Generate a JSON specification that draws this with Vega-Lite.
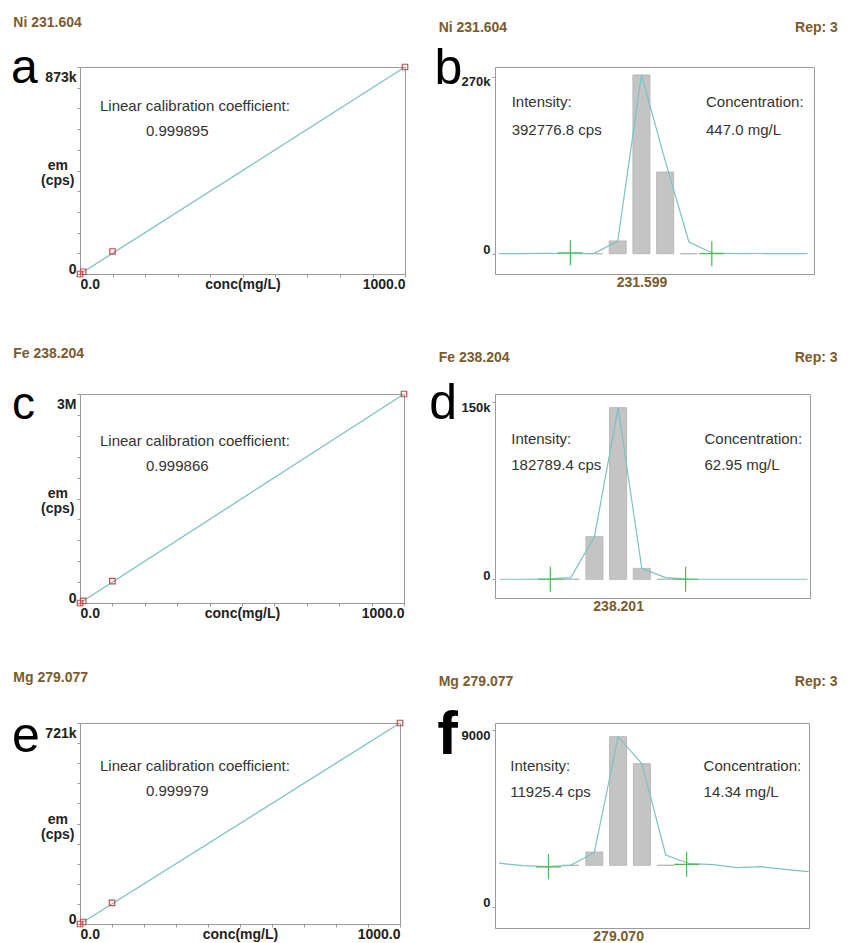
{
  "$schema": "https://vega.github.io/schema/vega-lite/v6.json",
  "padding": {"left": 10, "top": 15, "right": 2, "bottom": 0},
  "bounds": "flush",
  "columns": 2,
  "spacing": {"row": 120, "column": 90},
  "config": {
    "font": "Liberation Sans",
    "view": {"stroke": "#9a9a9a", "strokeWidth": 1},
    "axis": {"grid": false, "domainColor": "#9a9a9a", "tickColor": "#9a9a9a", "tickSize": 3, "labelFont": "Liberation Sans", "labelFontWeight": "bold", "labelColor": "#222222", "labelFontSize": 14, "titleFont": "Liberation Sans", "titleFontWeight": "bold", "titleColor": "#222222", "titleFontSize": 14, "labelBound": false, "labelOverlap": false},
    "text": {"font": "Liberation Sans"}
  },
  "concat": [
    {
      "width": 325, "height": 207,
      "resolve": {"axis": {"x": "independent", "y": "independent"}},
      "layer": [
        {"data": {"values": [{"conc": 0, "em": 0}, {"conc": 1000, "em": 873000}]},
         "mark": {"type": "line", "color": "#7cc2c2", "strokeWidth": 1.3},
         "encoding": {
           "x": {"field": "conc", "type": "quantitative", "scale": {"domain": [0, 1000], "nice": false, "zero": false},
                 "axis": {"values": [0,100,200,300,400,500,600,700,800,900,1000], "labelExpr": "datum.value == 0 ? '0.0' : (datum.value == 1000 ? '1000.0' : '')", "labelAlign": {"condition": {"test": "datum.value == 0", "value": "left"}, "value": "right"}, "labelPadding": 0, "title": "conc(mg/L)", "titleBaseline": "top", "titleY": 3}},
           "y": {"field": "em", "type": "quantitative", "scale": {"domain": [0, 873000], "nice": false, "zero": false},
                 "axis": {"values": [0,87300,174600,261900,349200,436500,523800,611100,698400,785700,873000], "labelExpr": "datum.value == 0 ? '0' : (datum.value == 873000 ? '873k' : '')", "labelBaseline": "middle", "labelOffset": {"condition": {"test": "datum.value == 0", "value": -4.5}, "value": 10}, "labelPadding": 1, "title": ["em", "(cps)"], "titleAngle": 0, "titleAlign": "center", "titleBaseline": "alphabetic", "titleX": -22.7, "titleY": 102.3, "titleLineHeight": 15}}
         }},
        {"data": {"values": [{"conc": 0, "em": 0}, {"conc": 10, "em": 9500}, {"conc": 100, "em": 95000}, {"conc": 1000, "em": 873000}]},
         "mark": {"type": "point", "shape": "square", "filled": false, "color": "#c0504d", "size": 30, "strokeWidth": 1.2, "opacity": 1},
         "encoding": {"x": {"field": "conc", "type": "quantitative", "axis": null}, "y": {"field": "em", "type": "quantitative", "axis": null}}},
        {"data": {"values": [{}]}, "mark": {"type": "text", "align": "left", "baseline": "alphabetic", "fontSize": 14, "fontWeight": "bold", "color": "#7b5a2e"},
         "encoding": {"x": {"datum": -205.2, "type": "quantitative", "axis": null}, "y": {"datum": 1041700, "type": "quantitative", "axis": null}, "text": {"value": "Ni 231.604"}}},
        {"data": {"values": [{}]}, "mark": {"type": "text", "align": "left", "baseline": "alphabetic", "fontSize": 48, "color": "#000000"},
         "encoding": {"x": {"datum": -212.3, "type": "quantitative", "axis": null}, "y": {"datum": 805500, "type": "quantitative", "axis": null}, "text": {"value": "a"}}},
        {"data": {"values": [{}]}, "mark": {"type": "text", "align": "left", "baseline": "middle", "fontSize": 15, "color": "#333333"},
         "encoding": {"x": {"datum": 61.5, "type": "quantitative", "axis": null}, "y": {"datum": 708500, "type": "quantitative", "axis": null}, "text": {"value": "Linear calibration coefficient:"}}},
        {"data": {"values": [{}]}, "mark": {"type": "text", "align": "left", "baseline": "middle", "fontSize": 15, "color": "#333333"},
         "encoding": {"x": {"datum": 203, "type": "quantitative", "axis": null}, "y": {"datum": 603100, "type": "quantitative", "axis": null}, "text": {"value": "0.999895"}}}
      ]
    },
    {
      "width": 319, "height": 207,
      "resolve": {"axis": {"x": "independent", "y": "independent"}},
      "layer": [
        {"data": {"values": [{"wl": 231.595, "cps": 0}, {"wl": 231.597, "cps": 19400}, {"wl": 231.599, "cps": 272400}, {"wl": 231.601, "cps": 124500}, {"wl": 231.603, "cps": 0}]},
         "mark": {"type": "bar", "width": 17, "color": "#c4c4c4", "stroke": "#b8b8b8", "strokeWidth": 1},
         "encoding": {
           "x": {"field": "wl", "type": "quantitative", "scale": {"domain": [231.58708, 231.61312], "nice": false, "zero": false},
                 "axis": {"values": [231.599], "format": ".3f", "labelColor": "#7b5a2e", "labelFontSize": 14, "ticks": false, "labelPadding": 1.5, "title": null}},
           "y": {"field": "cps", "type": "quantitative", "scale": {"domain": [-30900, 284500], "nice": false, "zero": false},
                 "axis": {"values": [0, 270000], "labelExpr": "datum.value == 0 ? '0' : '270k'", "labelFontSize": 13, "labelBaseline": "middle", "labelOffset": {"condition": {"test": "datum.value == 0", "value": -4}, "value": 5}, "labelPadding": 2, "title": null}},
           "y2": {"datum": 0}
         }},
        {"data": {"values": [{"wl": 231.587, "cps": 0}, {"wl": 231.589, "cps": 0}, {"wl": 231.591, "cps": 400}, {"wl": 231.593, "cps": 0}, {"wl": 231.595, "cps": 600}, {"wl": 231.597, "cps": 18800}, {"wl": 231.599, "cps": 272400}, {"wl": 231.601, "cps": 141800}, {"wl": 231.603, "cps": 17800}, {"wl": 231.605, "cps": 800}, {"wl": 231.607, "cps": 0}, {"wl": 231.609, "cps": 300}, {"wl": 231.611, "cps": 0}, {"wl": 231.613, "cps": 0}]},
         "mark": {"type": "line", "color": "#7cc2c2", "strokeWidth": 1.2, "clip": true},
         "encoding": {"x": {"field": "wl", "type": "quantitative", "axis": null}, "y": {"field": "cps", "type": "quantitative", "axis": null}}},
        {"data": {"values": [{"wl": 231.59301, "cps": 1500}, {"wl": 231.60493, "cps": 0}]},
         "mark": {"type": "point", "shape": "M-1,0H1M0,-1V1", "filled": false, "color": "#4cba4c", "size": 625, "strokeWidth": 1.2, "opacity": 1},
         "encoding": {"x": {"field": "wl", "type": "quantitative", "axis": null}, "y": {"field": "cps", "type": "quantitative", "axis": null}}},
        {"data": {"values": [{}]}, "mark": {"type": "text", "align": "left", "baseline": "alphabetic", "fontSize": 14, "fontWeight": "bold", "color": "#7b5a2e"},
         "encoding": {"x": {"datum": 231.58191, "type": "quantitative", "axis": null}, "y": {"datum": 338400, "type": "quantitative", "axis": null}, "text": {"value": "Ni 231.604"}}},
        {"data": {"values": [{}]}, "mark": {"type": "text", "align": "right", "baseline": "alphabetic", "fontSize": 14, "fontWeight": "bold", "color": "#7b5a2e"},
         "encoding": {"x": {"datum": 231.61555, "type": "quantitative", "axis": null}, "y": {"datum": 338400, "type": "quantitative", "axis": null}, "text": {"value": "Rep: 3"}}},
        {"data": {"values": [{}]}, "mark": {"type": "text", "align": "left", "baseline": "alphabetic", "fontSize": 50, "color": "#000000"},
         "encoding": {"x": {"datum": 231.58157, "type": "quantitative", "axis": null}, "y": {"datum": 258200, "type": "quantitative", "axis": null}, "text": {"value": "b"}}},
        {"data": {"values": [{}]}, "mark": {"type": "text", "align": "left", "baseline": "middle", "fontSize": 15, "color": "#333333"},
         "encoding": {"x": {"datum": 231.58806, "type": "quantitative", "axis": null}, "y": {"datum": 231000, "type": "quantitative", "axis": null}, "text": {"value": "Intensity:"}}},
        {"data": {"values": [{}]}, "mark": {"type": "text", "align": "left", "baseline": "middle", "fontSize": 15, "color": "#333333"},
         "encoding": {"x": {"datum": 231.58806, "type": "quantitative", "axis": null}, "y": {"datum": 189000, "type": "quantitative", "axis": null}, "text": {"value": "392776.8 cps"}}},
        {"data": {"values": [{}]}, "mark": {"type": "text", "align": "left", "baseline": "middle", "fontSize": 15, "color": "#333333"},
         "encoding": {"x": {"datum": 231.60444, "type": "quantitative", "axis": null}, "y": {"datum": 231000, "type": "quantitative", "axis": null}, "text": {"value": "Concentration:"}}},
        {"data": {"values": [{}]}, "mark": {"type": "text", "align": "left", "baseline": "middle", "fontSize": 15, "color": "#333333"},
         "encoding": {"x": {"datum": 231.60444, "type": "quantitative", "axis": null}, "y": {"datum": 189000, "type": "quantitative", "axis": null}, "text": {"value": "447.0 mg/L"}}}
      ]
    },
    {
      "width": 324, "height": 209,
      "resolve": {"axis": {"x": "independent", "y": "independent"}},
      "layer": [
        {"data": {"values": [{"conc": 0, "em": 0}, {"conc": 1000, "em": 3000000}]},
         "mark": {"type": "line", "color": "#7cc2c2", "strokeWidth": 1.3},
         "encoding": {
           "x": {"field": "conc", "type": "quantitative", "scale": {"domain": [0, 1000], "nice": false, "zero": false},
                 "axis": {"values": [0,100,200,300,400,500,600,700,800,900,1000], "labelExpr": "datum.value == 0 ? '0.0' : (datum.value == 1000 ? '1000.0' : '')", "labelAlign": {"condition": {"test": "datum.value == 0", "value": "left"}, "value": "right"}, "labelPadding": 0, "title": "conc(mg/L)", "titleBaseline": "top", "titleY": 3}},
           "y": {"field": "em", "type": "quantitative", "scale": {"domain": [0, 3000000], "nice": false, "zero": false},
                 "axis": {"values": [0,300000,600000,900000,1200000,1500000,1800000,2100000,2400000,2700000,3000000], "labelExpr": "datum.value == 0 ? '0' : (datum.value == 3000000 ? '3M' : '')", "labelBaseline": "middle", "labelOffset": {"condition": {"test": "datum.value == 0", "value": -4.5}, "value": 10}, "labelPadding": 1, "title": ["em", "(cps)"], "titleAngle": 0, "titleAlign": "center", "titleBaseline": "alphabetic", "titleX": -22.7, "titleY": 103, "titleLineHeight": 15}}
         }},
        {"data": {"values": [{"conc": 0, "em": 0}, {"conc": 10, "em": 30000}, {"conc": 100, "em": 315000}, {"conc": 1000, "em": 3000000}]},
         "mark": {"type": "point", "shape": "square", "filled": false, "color": "#c0504d", "size": 30, "strokeWidth": 1.2, "opacity": 1},
         "encoding": {"x": {"field": "conc", "type": "quantitative", "axis": null}, "y": {"field": "em", "type": "quantitative", "axis": null}}},
        {"data": {"values": [{}]}, "mark": {"type": "text", "align": "left", "baseline": "alphabetic", "fontSize": 14, "fontWeight": "bold", "color": "#7b5a2e"},
         "encoding": {"x": {"datum": -205.9, "type": "quantitative", "axis": null}, "y": {"datum": 3512400, "type": "quantitative", "axis": null}, "text": {"value": "Fe 238.204"}}},
        {"data": {"values": [{}]}, "mark": {"type": "text", "align": "left", "baseline": "alphabetic", "fontSize": 46, "color": "#000000"},
         "encoding": {"x": {"datum": -209.9, "type": "quantitative", "axis": null}, "y": {"datum": 2648300, "type": "quantitative", "axis": null}, "text": {"value": "c"}}},
        {"data": {"values": [{}]}, "mark": {"type": "text", "align": "left", "baseline": "middle", "fontSize": 15, "color": "#333333"},
         "encoding": {"x": {"datum": 61.7, "type": "quantitative", "axis": null}, "y": {"datum": 2325400, "type": "quantitative", "axis": null}, "text": {"value": "Linear calibration coefficient:"}}},
        {"data": {"values": [{}]}, "mark": {"type": "text", "align": "left", "baseline": "middle", "fontSize": 15, "color": "#333333"},
         "encoding": {"x": {"datum": 203.7, "type": "quantitative", "axis": null}, "y": {"datum": 1966500, "type": "quantitative", "axis": null}, "text": {"value": "0.999866"}}}
      ]
    },
    {
      "width": 315, "height": 204,
      "resolve": {"axis": {"x": "independent", "y": "independent"}},
      "layer": [
        {"data": {"values": [{"wl": 238.197, "cps": 0}, {"wl": 238.199, "cps": 36100}, {"wl": 238.201, "cps": 145600}, {"wl": 238.203, "cps": 9300}, {"wl": 238.205, "cps": 0}]},
         "mark": {"type": "bar", "width": 17, "color": "#c4c4c4", "stroke": "#b8b8b8", "strokeWidth": 1},
         "encoding": {
           "x": {"field": "wl", "type": "quantitative", "scale": {"domain": [238.19102, 238.21679], "nice": false, "zero": false},
                 "axis": {"values": [238.201], "format": ".3f", "labelColor": "#7b5a2e", "labelFontSize": 14, "ticks": false, "labelPadding": 1.5, "title": null}},
           "y": {"field": "cps", "type": "quantitative", "scale": {"domain": [-15900, 157200], "nice": false, "zero": false},
                 "axis": {"values": [0, 150000], "labelExpr": "datum.value == 0 ? '0' : '150k'", "labelFontSize": 13, "labelBaseline": "middle", "labelOffset": {"condition": {"test": "datum.value == 0", "value": -4}, "value": 5}, "labelPadding": 2, "title": null}},
           "y2": {"datum": 0}
         }},
        {"data": {"values": [{"wl": 238.191, "cps": 0}, {"wl": 238.193, "cps": 0}, {"wl": 238.195, "cps": 300}, {"wl": 238.197, "cps": 1400}, {"wl": 238.199, "cps": 36100}, {"wl": 238.201, "cps": 145600}, {"wl": 238.203, "cps": 9300}, {"wl": 238.205, "cps": 1400}, {"wl": 238.207, "cps": 200}, {"wl": 238.209, "cps": 0}, {"wl": 238.211, "cps": 0}, {"wl": 238.213, "cps": 0}, {"wl": 238.215, "cps": 0}, {"wl": 238.217, "cps": 0}]},
         "mark": {"type": "line", "color": "#7cc2c2", "strokeWidth": 1.2, "clip": true},
         "encoding": {"x": {"field": "wl", "type": "quantitative", "axis": null}, "y": {"field": "cps", "type": "quantitative", "axis": null}}},
        {"data": {"values": [{"wl": 238.19527, "cps": 0}, {"wl": 238.2067, "cps": 0}]},
         "mark": {"type": "point", "shape": "M-1,0H1M0,-1V1", "filled": false, "color": "#4cba4c", "size": 625, "strokeWidth": 1.2, "opacity": 1},
         "encoding": {"x": {"field": "wl", "type": "quantitative", "axis": null}, "y": {"field": "cps", "type": "quantitative", "axis": null}}},
        {"data": {"values": [{}]}, "mark": {"type": "text", "align": "left", "baseline": "alphabetic", "fontSize": 14, "fontWeight": "bold", "color": "#7b5a2e"},
         "encoding": {"x": {"datum": 238.18584, "type": "quantitative", "axis": null}, "y": {"datum": 184100, "type": "quantitative", "axis": null}, "text": {"value": "Fe 238.204"}}},
        {"data": {"values": [{}]}, "mark": {"type": "text", "align": "right", "baseline": "alphabetic", "fontSize": 14, "fontWeight": "bold", "color": "#7b5a2e"},
         "encoding": {"x": {"datum": 238.21954, "type": "quantitative", "axis": null}, "y": {"datum": 184100, "type": "quantitative", "axis": null}, "text": {"value": "Rep: 3"}}},
        {"data": {"values": [{}]}, "mark": {"type": "text", "align": "left", "baseline": "alphabetic", "fontSize": 50, "color": "#000000"},
         "encoding": {"x": {"datum": 238.18505, "type": "quantitative", "axis": null}, "y": {"datum": 135700, "type": "quantitative", "axis": null}, "text": {"value": "d"}}},
        {"data": {"values": [{}]}, "mark": {"type": "text", "align": "left", "baseline": "middle", "fontSize": 15, "color": "#333333"},
         "encoding": {"x": {"datum": 238.19197, "type": "quantitative", "axis": null}, "y": {"datum": 118800, "type": "quantitative", "axis": null}, "text": {"value": "Intensity:"}}},
        {"data": {"values": [{}]}, "mark": {"type": "text", "align": "left", "baseline": "middle", "fontSize": 15, "color": "#333333"},
         "encoding": {"x": {"datum": 238.19197, "type": "quantitative", "axis": null}, "y": {"datum": 97100, "type": "quantitative", "axis": null}, "text": {"value": "182789.4 cps"}}},
        {"data": {"values": [{}]}, "mark": {"type": "text", "align": "left", "baseline": "middle", "fontSize": 15, "color": "#333333"},
         "encoding": {"x": {"datum": 238.2083, "type": "quantitative", "axis": null}, "y": {"datum": 118800, "type": "quantitative", "axis": null}, "text": {"value": "Concentration:"}}},
        {"data": {"values": [{}]}, "mark": {"type": "text", "align": "left", "baseline": "middle", "fontSize": 15, "color": "#333333"},
         "encoding": {"x": {"datum": 238.2083, "type": "quantitative", "axis": null}, "y": {"datum": 97100, "type": "quantitative", "axis": null}, "text": {"value": "62.95 mg/L"}}}
      ]
    },
    {
      "width": 320, "height": 201,
      "resolve": {"axis": {"x": "independent", "y": "independent"}},
      "layer": [
        {"data": {"values": [{"conc": 0, "em": 0}, {"conc": 1000, "em": 721000}]},
         "mark": {"type": "line", "color": "#7cc2c2", "strokeWidth": 1.3},
         "encoding": {
           "x": {"field": "conc", "type": "quantitative", "scale": {"domain": [0, 1000], "nice": false, "zero": false},
                 "axis": {"values": [0,100,200,300,400,500,600,700,800,900,1000], "labelExpr": "datum.value == 0 ? '0.0' : (datum.value == 1000 ? '1000.0' : '')", "labelAlign": {"condition": {"test": "datum.value == 0", "value": "left"}, "value": "right"}, "labelPadding": 0, "title": "conc(mg/L)", "titleBaseline": "top", "titleY": 3}},
           "y": {"field": "em", "type": "quantitative", "scale": {"domain": [0, 721000], "nice": false, "zero": false},
                 "axis": {"values": [0,72100,144200,216300,288400,360500,432600,504700,576800,648900,721000], "labelExpr": "datum.value == 0 ? '0' : (datum.value == 721000 ? '721k' : '')", "labelBaseline": "middle", "labelOffset": {"condition": {"test": "datum.value == 0", "value": -4.5}, "value": 10}, "labelPadding": 1, "title": ["em", "(cps)"], "titleAngle": 0, "titleAlign": "center", "titleBaseline": "alphabetic", "titleX": -22.7, "titleY": 100, "titleLineHeight": 15}}
         }},
        {"data": {"values": [{"conc": 0, "em": 0}, {"conc": 10, "em": 7200}, {"conc": 100, "em": 75600}, {"conc": 1000, "em": 721000}]},
         "mark": {"type": "point", "shape": "square", "filled": false, "color": "#c0504d", "size": 30, "strokeWidth": 1.2, "opacity": 1},
         "encoding": {"x": {"field": "conc", "type": "quantitative", "axis": null}, "y": {"field": "em", "type": "quantitative", "axis": null}}},
        {"data": {"values": [{}]}, "mark": {"type": "text", "align": "left", "baseline": "alphabetic", "fontSize": 14, "fontWeight": "bold", "color": "#7b5a2e"},
         "encoding": {"x": {"datum": -208.4, "type": "quantitative", "axis": null}, "y": {"datum": 867000, "type": "quantitative", "axis": null}, "text": {"value": "Mg 279.077"}}},
        {"data": {"values": [{}]}, "mark": {"type": "text", "align": "left", "baseline": "alphabetic", "fontSize": 50, "color": "#000000"},
         "encoding": {"x": {"datum": -212.5, "type": "quantitative", "axis": null}, "y": {"datum": 617000, "type": "quantitative", "axis": null}, "text": {"value": "e"}}},
        {"data": {"values": [{}]}, "mark": {"type": "text", "align": "left", "baseline": "middle", "fontSize": 15, "color": "#333333"},
         "encoding": {"x": {"datum": 62.5, "type": "quantitative", "axis": null}, "y": {"datum": 566800, "type": "quantitative", "axis": null}, "text": {"value": "Linear calibration coefficient:"}}},
        {"data": {"values": [{}]}, "mark": {"type": "text", "align": "left", "baseline": "middle", "fontSize": 15, "color": "#333333"},
         "encoding": {"x": {"datum": 206.3, "type": "quantitative", "axis": null}, "y": {"datum": 477100, "type": "quantitative", "axis": null}, "text": {"value": "0.999979"}}}
      ]
    },
    {
      "width": 314, "height": 205,
      "resolve": {"axis": {"x": "independent", "y": "independent"}},
      "layer": [
        {"data": {"values": [{"wl": 279.066, "cps": 2120}, {"wl": 279.068, "cps": 2796}, {"wl": 279.07, "cps": 8658}, {"wl": 279.072, "cps": 7285}, {"wl": 279.074, "cps": 2120}]},
         "mark": {"type": "bar", "width": 17, "color": "#c4c4c4", "stroke": "#b8b8b8", "strokeWidth": 1},
         "encoding": {
           "x": {"field": "wl", "type": "quantitative", "scale": {"domain": [279.06008, 279.08561], "nice": false, "zero": false},
                 "axis": {"values": [279.07], "format": ".3f", "labelColor": "#7b5a2e", "labelFontSize": 14, "ticks": false, "labelPadding": 1.5, "title": null}},
           "y": {"field": "cps", "type": "quantitative", "scale": {"domain": [-1068, 9356], "nice": false, "zero": false},
                 "axis": {"values": [0, 9000], "labelExpr": "datum.value == 0 ? '0' : '9000'", "labelFontSize": 13, "labelBaseline": "middle", "labelOffset": {"condition": {"test": "datum.value == 0", "value": -4}, "value": 5}, "labelPadding": 2, "title": null}},
           "y2": {"datum": 2120}
         }},
        {"data": {"values": [{"wl": 279.06, "cps": 2230}, {"wl": 279.062, "cps": 2100}, {"wl": 279.064, "cps": 2049}, {"wl": 279.066, "cps": 2120}, {"wl": 279.068, "cps": 2760}, {"wl": 279.07, "cps": 8658}, {"wl": 279.072, "cps": 7285}, {"wl": 279.074, "cps": 2644}, {"wl": 279.076, "cps": 2201}, {"wl": 279.078, "cps": 2150}, {"wl": 279.08, "cps": 1998}, {"wl": 279.082, "cps": 2049}, {"wl": 279.084, "cps": 1917}, {"wl": 279.086, "cps": 1795}]},
         "mark": {"type": "line", "color": "#7cc2c2", "strokeWidth": 1.2, "clip": true},
         "encoding": {"x": {"field": "wl", "type": "quantitative", "axis": null}, "y": {"field": "cps", "type": "quantitative", "axis": null}}},
        {"data": {"values": [{"wl": 279.06415, "cps": 2044}, {"wl": 279.07575, "cps": 2171}]},
         "mark": {"type": "point", "shape": "M-1,0H1M0,-1V1", "filled": false, "color": "#4cba4c", "size": 625, "strokeWidth": 1.2, "opacity": 1},
         "encoding": {"x": {"field": "wl", "type": "quantitative", "axis": null}, "y": {"field": "cps", "type": "quantitative", "axis": null}}},
        {"data": {"values": [{}]}, "mark": {"type": "text", "align": "left", "baseline": "alphabetic", "fontSize": 14, "fontWeight": "bold", "color": "#7b5a2e"},
         "encoding": {"x": {"datum": 279.05493, "type": "quantitative", "axis": null}, "y": {"datum": 11222, "type": "quantitative", "axis": null}, "text": {"value": "Mg 279.077"}}},
        {"data": {"values": [{}]}, "mark": {"type": "text", "align": "right", "baseline": "alphabetic", "fontSize": 14, "fontWeight": "bold", "color": "#7b5a2e"},
         "encoding": {"x": {"datum": 279.08843, "type": "quantitative", "axis": null}, "y": {"datum": 11222, "type": "quantitative", "axis": null}, "text": {"value": "Rep: 3"}}},
        {"data": {"values": [{}]}, "mark": {"type": "text", "align": "left", "baseline": "alphabetic", "fontSize": 62, "fontWeight": "bold", "color": "#000000"},
         "encoding": {"x": {"datum": 279.0548, "type": "quantitative", "axis": null}, "y": {"datum": 7764, "type": "quantitative", "axis": null}, "text": {"value": "f"}}},
        {"data": {"values": [{}]}, "mark": {"type": "text", "align": "left", "baseline": "middle", "fontSize": 15, "color": "#333333"},
         "encoding": {"x": {"datum": 279.06094, "type": "quantitative", "axis": null}, "y": {"datum": 7169, "type": "quantitative", "axis": null}, "text": {"value": "Intensity:"}}},
        {"data": {"values": [{}]}, "mark": {"type": "text", "align": "left", "baseline": "middle", "fontSize": 15, "color": "#333333"},
         "encoding": {"x": {"datum": 279.06094, "type": "quantitative", "axis": null}, "y": {"datum": 5832, "type": "quantitative", "axis": null}, "text": {"value": "11925.4 cps"}}},
        {"data": {"values": [{}]}, "mark": {"type": "text", "align": "left", "baseline": "middle", "fontSize": 15, "color": "#333333"},
         "encoding": {"x": {"datum": 279.07718, "type": "quantitative", "axis": null}, "y": {"datum": 7169, "type": "quantitative", "axis": null}, "text": {"value": "Concentration:"}}},
        {"data": {"values": [{}]}, "mark": {"type": "text", "align": "left", "baseline": "middle", "fontSize": 15, "color": "#333333"},
         "encoding": {"x": {"datum": 279.07718, "type": "quantitative", "axis": null}, "y": {"datum": 5832, "type": "quantitative", "axis": null}, "text": {"value": "14.34 mg/L"}}}
      ]
    }
  ]
}
